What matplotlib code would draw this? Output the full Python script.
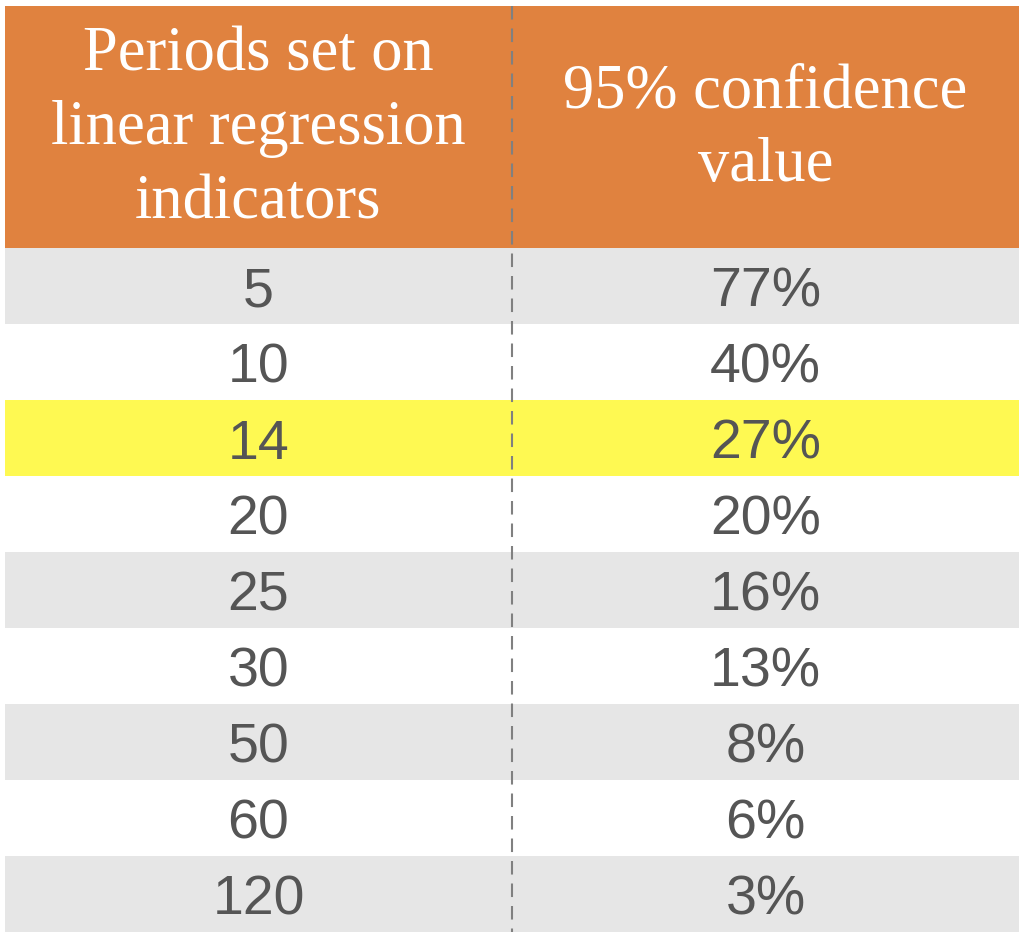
import matplotlib
matplotlib.use("Agg")
import matplotlib.pyplot as plt

# table content
header = ["Periods set on\nlinear regression\nindicators", "95% confidence\nvalue"]
periods = ["5", "10", "14", "20", "25", "30", "50", "60", "120"]
confidence = ["77%", "40%", "27%", "20%", "16%", "13%", "8%", "6%", "3%"]
highlight = "14"

orange = "#E0823F"
grey = "#E6E6E6"
yellow = "#FEF952"

fig = plt.figure(figsize=(10.24, 9.38), dpi=100)
# axes covers the table area (pixels 5..1019 wide, 6..932 tall)
ax = fig.add_axes([5 / 1024, 6 / 938, 1014 / 1024, 926 / 938])
hdr = 242 / 76  # header height in row units
n = len(periods)
ax.set_xlim(0, 2)
ax.set_ylim(n, -hdr)
ax.axis("off")

# header band
ax.barh(-hdr / 2, 2, height=hdr, left=0, color=orange, linewidth=0)
for j, txt in enumerate(header):
    ax.text(j + 0.5, -hdr / 2 + 0.03, txt, ha="center", va="center", color="white",
            family="Liberation Serif", fontsize=45, linespacing=1.36)

# body rows
for i, (p, c) in enumerate(zip(periods, confidence)):
    if p == highlight:
        col = yellow
    elif i % 2 == 0:
        col = grey
    else:
        col = "white"
    ax.barh(i + 0.5, 2, height=1, left=0, color=col, linewidth=0)
    for j, txt in enumerate([p, c]):
        ax.text(j + 0.5, i + 0.77, txt, ha="center", va="baseline",
                color="#555555", family="Liberation Sans", fontsize=40)

# dashed column divider
ax.plot([1, 1], [-hdr, n], color="#808080", linewidth=1.5,
        dashes=(6.5, 4.3), scalex=False, scaley=False)

fig.savefig("out.png", dpi=100, facecolor="white")
